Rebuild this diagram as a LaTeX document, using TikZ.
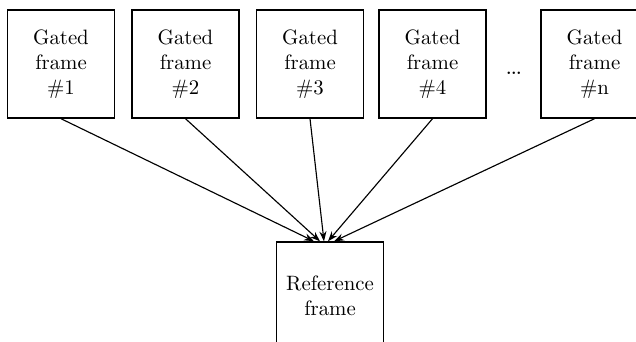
\documentclass[tikz,border=0pt]{standalone}
\usepackage{tikz}
\usetikzlibrary{
	positioning,
	arrows.meta
}
\tikzset{
	every picture/.style={
		line width=.3mm,
	},
}
\tikzstyle{framebox} = [
	draw,
	line width=.25mm,
	minimum width=53.5pt,
	minimum height=54pt,
	inner sep=0mm,
	align=center,
	font=\fontsize{10.4}{12.6}\selectfont
]
\tikzstyle{link} = [
	line width=.2mm,
	-{Stealth[length=5pt, width=3.6pt]}
]

\begin{document}
\begin{tikzpicture}[x=.5pt, y=-.5pt]
	\clip (0, 0) rectangle (636, 342);
	\path[use as bounding box] (0, 0) rectangle (636, 342);

	\foreach \n/\x in {1/61, 2/185.5, 3/310, 4/432.5, n/594.5}
		\node[framebox] (g\n) at (\x, 64) {Gated\\frame\\\#\n};

	\node[font=\fontsize{15}{16}\selectfont] (dots) at (514, 73) {\ldots};

	\node[framebox] (ref) at (330, 296) {Reference\\frame};

	\foreach \n/\s in {1/-8, 2/-5, 3/-3, 4/-1, n/2}
		\draw[link] (g\n.south) -- ([xshift=\s pt]ref.north);
\end{tikzpicture}
\end{document}
